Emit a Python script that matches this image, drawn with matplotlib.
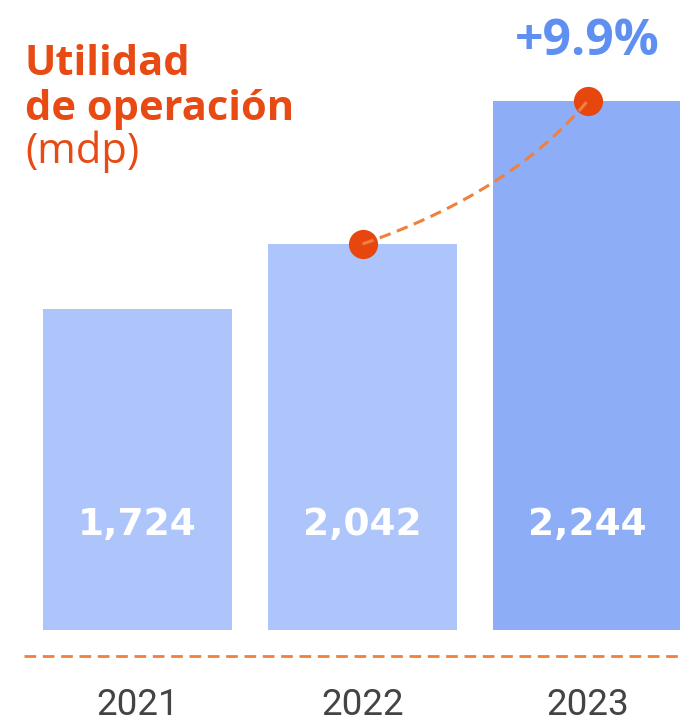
import matplotlib
matplotlib.use("Agg")
import matplotlib.pyplot as plt
import numpy as np

# data
years = ["2021", "2022", "2023"]
values = [1724, 2042, 2244]           # mdp, shown as labels
bar_heights = [321, 386, 529]         # drawn heights (the chart is not to scale)
growth_label = "+9.9%"

light_blue = "#ADC5FB"
dark_blue = "#8DAEF6"
orange = "#E84A14"
dash_orange = "#F0803D"
growth_blue = "#5F8FF0"
year_grey = "#444444"

fig = plt.figure(figsize=(6.8, 7.22), dpi=100)
ax = fig.add_axes([0, 0, 1, 1])
ax.set_xlim(-137.5 / 225, (680 - 137.5) / 225)
ax.set_ylim(-92, 630)
ax.axis("off")

x = np.arange(len(years))
colors = [light_blue, light_blue, dark_blue]
ax.bar(x, bar_heights, width=0.84, color=colors, zorder=1)

# value labels inside the bars
for xi, v in zip(x, values):
    ax.text(xi, 95, f"{v:,}", ha="center", va="baseline", color="white",
            fontsize=27, fontweight="bold", family="DejaVu Sans", zorder=3)

# year labels under the dashed baseline
for xi, y in zip(x, years):
    ax.text(xi, -85, y, ha="center", va="baseline", color=year_grey,
            fontsize=26.5, fontweight="normal", family="Roboto")

# dashed baseline
ax.plot([-0.504, 2.42], [-26, -26], color=dash_orange, lw=2.0,
        dashes=(4.2, 2.4), solid_capstyle="butt", zorder=2)

# growth curve between the last two bar tops
p0 = np.array([x[1], bar_heights[1]], dtype=float)
p2 = np.array([x[2], bar_heights[2]], dtype=float)
c = np.array([x[1] + 0.66, bar_heights[1] + 0.36 * (bar_heights[2] - bar_heights[1])])
t = np.linspace(0, 1, 100)[:, None]
curve = (1 - t) ** 2 * p0 + 2 * (1 - t) * t * c + t ** 2 * p2
ax.plot(x[1:], bar_heights[1:], "o", color="#E8460F", markersize=20, zorder=4)
ax.plot(curve[:, 0], curve[:, 1], color=dash_orange, lw=2.2,
        dashes=(3.8, 2.2), zorder=5)

ax.text(x[2], 575, growth_label, ha="center", va="baseline", color=growth_blue,
        fontsize=36, fontweight="bold", family="Open Sans")

# title
fig.text(25 / 680, 1 - 75 / 722, "Utilidad", color=orange, fontsize=30,
         fontweight="bold", family="Open Sans", va="baseline")
fig.text(25 / 680, 1 - 120 / 722, "de operación", color=orange, fontsize=30,
         fontweight="bold", family="Open Sans", va="baseline")
fig.text(25 / 680, 1 - 163 / 722, "(mdp)", color=orange, fontsize=30,
         family="Open Sans", va="baseline")

fig.savefig("out.png", dpi=100, facecolor="white")
